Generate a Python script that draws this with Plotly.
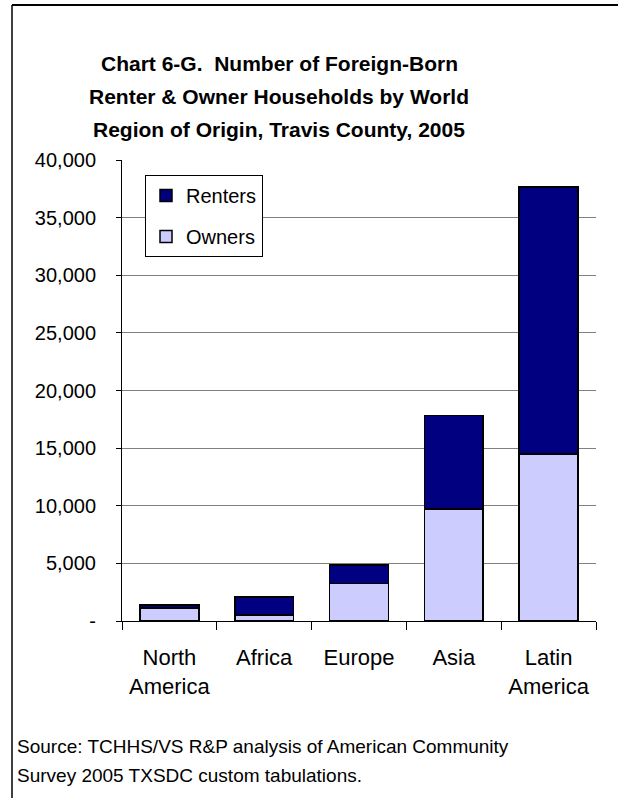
import plotly.graph_objects as go

# Foreign-born households by world region of origin, Travis County, 2005
regions = ["North<br>America", "Africa", "Europe", "Asia", "Latin<br>America"]
owners = [1150, 500, 3250, 9700, 14500]
renters = [250, 1600, 1600, 8150, 23150]

y_tickvals = [0, 5000, 10000, 15000, 20000, 25000, 30000, 35000, 40000]
y_ticktext = ["-", "5,000", "10,000", "15,000", "20,000", "25,000", "30,000", "35,000", "40,000"]

W, H = 618, 798
FONT = "Liberation Sans, Arial, sans-serif"


def px_x(x):
    return x / W


def px_y(y):
    return 1 - y / H


fig = go.Figure()
fig.add_trace(go.Bar(
    x=regions, y=owners, name="Owners", legendgroup="owners", legendrank=2,
    marker=dict(color="#CCCCFF", line=dict(color="black", width=1.5)),
))
fig.add_trace(go.Bar(
    x=regions, y=renters, name="Renters", legendgroup="renters", legendrank=1,
    marker=dict(color="#000080", line=dict(color="black", width=1.5)),
))

fig.update_layout(
    width=W, height=H,
    margin=dict(l=0, r=0, t=0, b=0),
    paper_bgcolor="white", plot_bgcolor="white",
    barmode="stack", bargap=0.38,
    font=dict(family=FONT, color="black", size=20),
    showlegend=True,
    legend=dict(
        x=px_x(145), y=px_y(175), xanchor="left", yanchor="top",
        bordercolor="black", borderwidth=1, bgcolor="white",
        traceorder="grouped", tracegroupgap=12,
        font=dict(size=20, family=FONT),
    ),
    xaxis=dict(
        domain=[px_x(122), px_x(596)], automargin=False,
        showline=True, linecolor="black", linewidth=1,
        ticks="outside", tickson="boundaries", ticklen=8, tickcolor="black",
        tickfont=dict(size=22), ticklabelstandoff=17,
        showgrid=False,
    ),
    yaxis=dict(
        domain=[px_y(621), px_y(160)], automargin=False,
        range=[0, 40000], tickvals=y_tickvals, ticktext=y_ticktext,
        showline=True, linecolor="black", linewidth=1,
        ticks="outside", ticklen=5, tickcolor="black",
        tickfont=dict(size=20), ticklabelstandoff=16,
        showgrid=True, gridcolor="#808080", gridwidth=1,
        zeroline=False,
    ),
)

title_lines = [
    ("Chart 6-G.  Number of Foreign-Born", 63),
    ("Renter &amp; Owner Households by World", 97),
    ("Region of Origin, Travis County, 2005", 130),
]
for text, yc in title_lines:
    fig.add_annotation(
        text=f"<b>{text}</b>", xref="paper", yref="paper",
        x=px_x(279), y=px_y(yc), xanchor="center", yanchor="middle",
        showarrow=False, font=dict(size=21, family=FONT),
    )

source_lines = [
    ("Source: TCHHS/VS R&amp;P analysis of American Community", 746),
    ("Survey 2005 TXSDC custom tabulations.", 775),
]
for text, yc in source_lines:
    fig.add_annotation(
        text=text, xref="paper", yref="paper",
        x=px_x(15), y=px_y(yc), xanchor="left", yanchor="middle",
        showarrow=False, font=dict(size=19, family=FONT),
    )

# Chart frame: top and left edges
fig.add_shape(type="line", xref="paper", yref="paper",
              x0=px_x(12), x1=1, y0=px_y(5), y1=px_y(5),
              line=dict(color="black", width=2))
fig.add_shape(type="line", xref="paper", yref="paper",
              x0=px_x(12), x1=px_x(12), y0=px_y(5), y1=0,
              line=dict(color="black", width=1.5))

fig.write_html("out.html")
